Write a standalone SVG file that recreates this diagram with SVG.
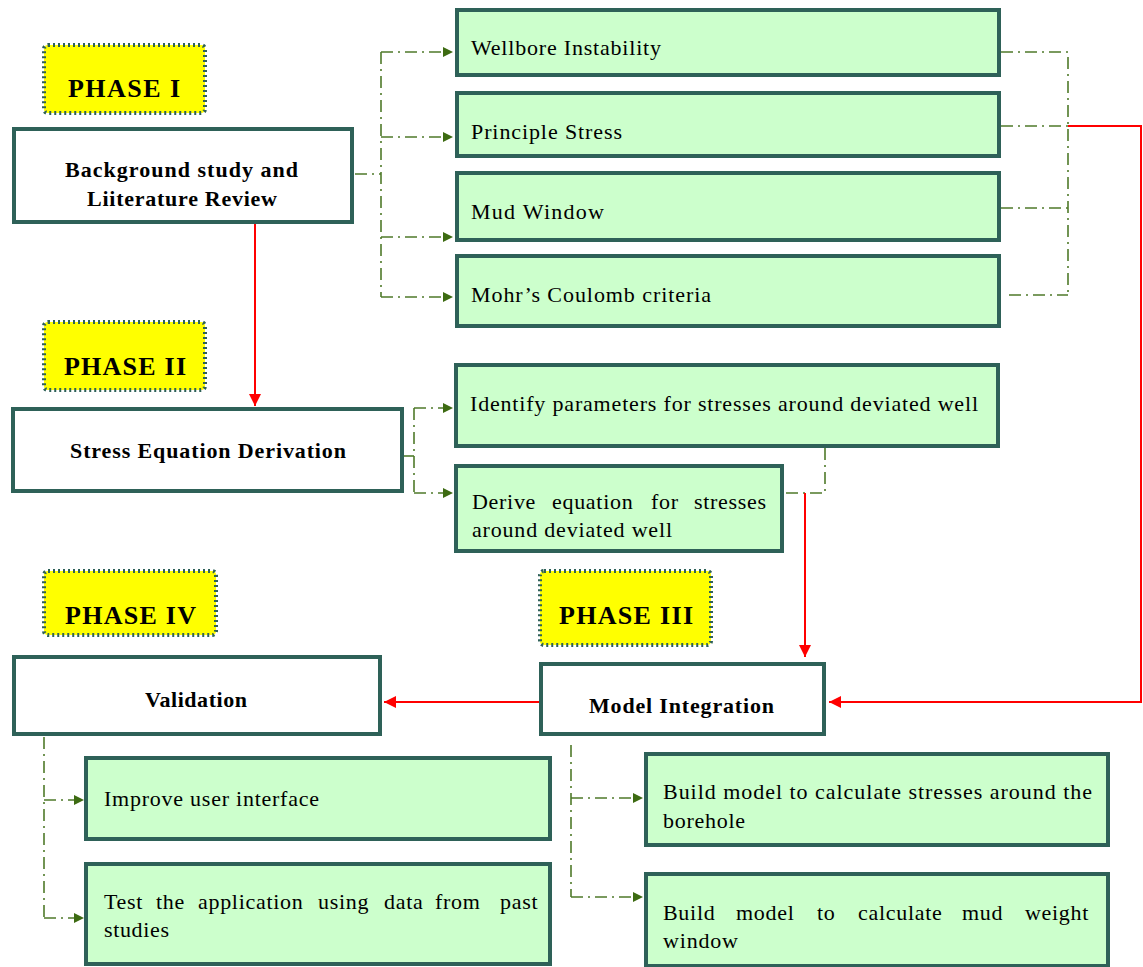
<svg xmlns="http://www.w3.org/2000/svg" width="1143" height="967" viewBox="0 0 1143 967">
<style>
.main{fill:#ffffff;stroke:#2e6158;stroke-width:4}
.sub{fill:#ccffcc;stroke:#2e6158;stroke-width:4}
.phase{fill:#ffff00;stroke:#2e6158;stroke-width:4;stroke-dasharray:2,3}
.t{font-family:"Liberation Serif","Times New Roman","DejaVu Serif",serif;font-size:22px;fill:#000}
.j{letter-spacing:0.7px}
.b{font-family:"Liberation Serif","Times New Roman","DejaVu Serif",serif;font-size:22px;font-weight:bold;fill:#000}
.p{font-family:"Liberation Serif","Times New Roman","DejaVu Serif",serif;font-size:26px;font-weight:bold;fill:#000}
.dd{fill:none;stroke:#4f7a2a;stroke-width:1.6;stroke-dasharray:12,5,2,5}
.red{fill:none;stroke:#ff0000;stroke-width:2}
</style>
<defs>
<marker id="ga" markerUnits="userSpaceOnUse" markerWidth="10" markerHeight="10" refX="10" refY="5" orient="auto">
<path d="M0,0 L10,5 L0,10 z" fill="#3d6b12"/>
</marker>
<marker id="ra" markerUnits="userSpaceOnUse" markerWidth="12" markerHeight="12" refX="12" refY="6" orient="auto">
<path d="M0,0 L12,6 L0,12 z" fill="#ff0000"/>
</marker>
</defs>

<g id="connectors">
<path class="dd" d="M355,174 H381"/>
<path class="dd" d="M381,52 V297"/>
<path class="dd" d="M381,52 H453" marker-end="url(#ga)"/>
<path class="dd" d="M381,137 H453" marker-end="url(#ga)"/>
<path class="dd" d="M381,237 H453" marker-end="url(#ga)"/>
<path class="dd" d="M381,297 H453" marker-end="url(#ga)"/>
<path class="dd" d="M1001,52 H1068 V295"/>
<path class="dd" d="M1001,126 H1068"/>
<path class="dd" d="M1001,208 H1068"/>
<path class="dd" d="M1009,295 H1068"/>
<path class="red" d="M1068,126 H1141 V702 H829" marker-end="url(#ra)"/>
<path class="red" d="M255,224 V406" marker-end="url(#ra)"/>
<path class="dd" d="M403,456 H414"/>
<path class="dd" d="M414,408 V493"/>
<path class="dd" d="M414,408 H453" marker-end="url(#ga)"/>
<path class="dd" d="M414,493 H453" marker-end="url(#ga)"/>
<path class="dd" d="M825,448 V493 H784"/>
<path class="red" d="M805,493 V657" marker-end="url(#ra)"/>
<path class="red" d="M540,702 H384" marker-end="url(#ra)"/>
<path class="dd" d="M44,737 V918"/>
<path class="dd" d="M44,800 H84" marker-end="url(#ga)"/>
<path class="dd" d="M44,918 H84" marker-end="url(#ga)"/>
<path class="dd" d="M571,745 V897"/>
<path class="dd" d="M571,798 H643" marker-end="url(#ga)"/>
<path class="dd" d="M571,897 H643" marker-end="url(#ga)"/>
</g>

<g id="phase1">
<rect class="phase" x="44" y="45" width="161" height="68" rx="4"/>
<text class="p" x="68" y="97" textLength="112" lengthAdjust="spacing">PHASE I</text>
</g>
<g id="background">
<rect class="main" x="14" y="129" width="338" height="93"/>
<text class="b" x="65" y="177" textLength="233" lengthAdjust="spacing">Background study and</text>
<text class="b" x="87" y="206" textLength="190" lengthAdjust="spacing">Liiterature Review</text>
</g>
<g id="wellbore">
<rect class="sub" x="457" y="10" width="542" height="65"/>
<text class="t" x="471" y="55" textLength="190" lengthAdjust="spacing">Wellbore Instability</text>
</g>
<g id="principle">
<rect class="sub" x="457" y="93" width="542" height="63"/>
<text class="t" x="471" y="139" textLength="151" lengthAdjust="spacing">Principle Stress</text>
</g>
<g id="mudwindow">
<rect class="sub" x="457" y="173" width="542" height="67"/>
<text class="t" x="471" y="219" textLength="133" lengthAdjust="spacing">Mud Window</text>
</g>
<g id="mohr">
<rect class="sub" x="457" y="256" width="542" height="70"/>
<text class="t" x="471" y="302" textLength="240" lengthAdjust="spacing">Mohr’s Coulomb criteria</text>
</g>

<g id="phase2">
<rect class="phase" x="44" y="322" width="161" height="68" rx="4"/>
<text class="p" x="64" y="375" textLength="122" lengthAdjust="spacing">PHASE II</text>
</g>
<g id="stresseq">
<rect class="main" x="13" y="409" width="389" height="82"/>
<text class="b" x="70" y="458" textLength="276" lengthAdjust="spacing">Stress Equation Derivation</text>
</g>
<g id="identify">
<rect class="sub" x="456" y="365" width="542" height="81"/>
<text class="t" x="470" y="411" textLength="508" lengthAdjust="spacing">Identify parameters for stresses around deviated well</text>
</g>
<g id="derive">
<rect class="sub" x="456" y="466" width="326" height="85"/>
<text class="t j" y="509"><tspan x="472">Derive</tspan><tspan x="552">equation</tspan><tspan x="651">for</tspan><tspan x="694">stresses</tspan></text>
<text class="t" x="472" y="537" textLength="200" lengthAdjust="spacing">around deviated well</text>
</g>

<g id="phase4">
<rect class="phase" x="44" y="571" width="172" height="64" rx="4"/>
<text class="p" x="65" y="624" textLength="131" lengthAdjust="spacing">PHASE IV</text>
</g>
<g id="validation">
<rect class="main" x="14" y="657" width="366" height="77"/>
<text class="b" x="145" y="707" textLength="102" lengthAdjust="spacing">Validation</text>
</g>
<g id="improve">
<rect class="sub" x="86" y="758" width="464" height="81"/>
<text class="t" x="104" y="806" textLength="215" lengthAdjust="spacing">Improve user interface</text>
</g>
<g id="test">
<rect class="sub" x="86" y="864" width="464" height="100"/>
<text class="t j" y="909"><tspan x="104">Test</tspan><tspan x="156">the</tspan><tspan x="198">application</tspan><tspan x="318">using</tspan><tspan x="384">data</tspan><tspan x="435">from</tspan><tspan x="500">past</tspan></text>
<text class="t" x="104" y="937" textLength="65" lengthAdjust="spacing">studies</text>
</g>

<g id="phase3">
<rect class="phase" x="540" y="571" width="171" height="74" rx="4"/>
<text class="p" x="559" y="624" textLength="134" lengthAdjust="spacing">PHASE III</text>
</g>
<g id="modelint">
<rect class="main" x="541" y="664" width="283" height="70"/>
<text class="b" x="589" y="713" textLength="185" lengthAdjust="spacing">Model Integration</text>
</g>
<g id="build1">
<rect class="sub" x="646" y="754" width="462" height="91"/>
<text class="t" x="663" y="799" textLength="429" lengthAdjust="spacing">Build model to calculate stresses around the</text>
<text class="t" x="663" y="828" textLength="82" lengthAdjust="spacing">borehole</text>
</g>
<g id="build2">
<rect class="sub" x="646" y="874" width="462" height="92"/>
<text class="t j" y="920"><tspan x="663">Build</tspan><tspan x="736">model</tspan><tspan x="817">to</tspan><tspan x="858">calculate</tspan><tspan x="962">mud</tspan><tspan x="1025">weight</tspan></text>
<text class="t" x="663" y="948" textLength="75" lengthAdjust="spacing">window</text>
</g>
</svg>
